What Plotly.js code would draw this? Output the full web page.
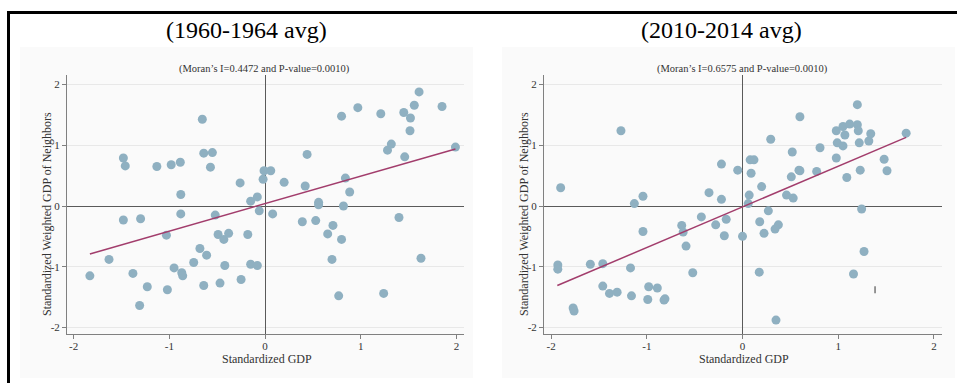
<!DOCTYPE html>
<html>
<head>
<meta charset="utf-8">
<script src="https://cdn.plot.ly/plotly-3.0.1.min.js"></script>
<style>html,body{margin:0;padding:0;background:#fff;}#chart{width:957px;height:383px;}</style>
</head>
<body>
<div id="chart"></div>
<script>
// ---- Data ----
const titles = ["(1960-1964 avg)", "(2010-2014 avg)"];
const subtitles = ["(Moran\u2019s I=0.4472 and P-value=0.0010)", "(Moran\u2019s I=0.6575 and P-value=0.0010)"];
const xTitle = "Standardized GDP";
const yTitle = "Standardized Weighted GDP of Neighbors";
const tickValues = [-2, -1, 0, 1, 2];
const tickLabels = ["-2", "-1", "0", "1", "2"];

const gdp1960 = [-1.48,-1.46,-1.13,-0.98,-0.885,-0.655,-0.64,-0.55,-0.57,-0.88,-0.26,-0.15,-0.08,-0.02,-0.01,0.06,-0.06,0.08,0.2,0.44,0.42,0.56,0.56,0.82,0.80,0.97,0.84,0.885,1.21,1.28,1.32,1.45,1.52,1.56,1.61,1.515,1.46,1.85,1.99,-1.48,-1.30,-0.88,-0.52,-1.03,-0.49,-0.43,-0.38,-0.18,-0.68,-0.61,-0.745,-1.63,-1.83,-1.38,-0.95,-0.87,-0.86,-0.42,-0.15,-0.08,-1.23,-1.02,-0.64,-0.47,-0.25,-1.31,0.39,0.53,0.71,0.655,0.80,1.40,0.70,1.63,0.77,1.24];
const nbr1960 = [0.79,0.66,0.65,0.68,0.72,1.43,0.87,0.88,0.64,0.19,0.38,0.08,0.15,0.44,0.58,0.58,-0.08,-0.13,0.39,0.85,0.33,0.06,0.02,0.0,1.48,1.62,0.46,0.23,1.52,0.92,1.02,1.54,1.45,1.66,1.88,1.24,0.81,1.64,0.97,-0.23,-0.21,-0.13,-0.15,-0.48,-0.47,-0.55,-0.45,-0.47,-0.70,-0.81,-0.93,-0.88,-1.15,-1.11,-1.02,-1.10,-1.15,-0.98,-0.96,-0.98,-1.33,-1.38,-1.31,-1.27,-1.21,-1.64,-0.26,-0.24,-0.32,-0.46,-0.55,-0.19,-0.88,-0.86,-1.48,-1.44];
const fitX1960 = [-1.83, 1.99];
const fitY1960 = [-0.79, 0.94];

const gdp2010 = [-1.90,-1.27,-1.13,-1.04,-0.35,-0.22,-0.22,-0.05,0.08,0.12,0.09,0.295,0.60,0.20,0.07,0.06,0.52,0.51,0.59,0.60,0.46,0.53,0.775,0.81,0.98,1.05,1.12,1.20,1.21,1.20,1.07,0.99,1.05,1.22,1.32,1.34,0.98,1.09,1.23,1.48,1.51,1.71,-1.04,-0.635,-0.62,-0.59,-0.43,-0.28,-0.17,-0.19,0.0,-1.93,-1.93,-1.59,-1.46,-1.17,-0.52,-1.46,-1.39,-1.31,-1.16,-0.98,-0.89,-0.99,-0.82,-0.81,-1.77,-1.76,0.27,0.18,0.375,0.34,0.225,1.245,1.27,0.175,1.16,0.35];
const nbr2010 = [0.30,1.24,0.04,0.16,0.22,0.11,0.69,0.59,0.76,0.76,0.54,1.10,1.47,0.32,0.18,0.04,0.89,0.48,0.59,0.58,0.18,0.13,0.57,0.96,1.24,1.31,1.35,1.34,1.24,1.67,1.17,1.04,0.99,1.04,1.07,1.19,0.79,0.47,0.59,0.77,0.58,1.20,-0.42,-0.32,-0.43,-0.66,-0.18,-0.31,-0.22,-0.49,-0.50,-0.97,-1.04,-0.96,-0.95,-1.02,-1.10,-1.32,-1.44,-1.42,-1.48,-1.33,-1.35,-1.54,-1.55,-1.53,-1.68,-1.73,-0.08,-0.26,-0.31,-0.38,-0.45,-0.05,-0.75,-1.09,-1.12,-1.88];
const fitX2010 = [-1.935, 1.71];
const fitY2010 = [-1.31, 1.13];
const stray2010X = [1.385];
const stray2010Y = [-1.38];

// ---- Layout helpers (pixels -> paper) ----
const W = 957, H = 383;
const pxX = p => p / W;
const pxY = p => 1 - p / H;
const serif = "Liberation Serif";
const dotColor = "#8fb0c1";
const fitColor = "#a23d6c";
const smallText = "#333333";

function axisX(dom, rng, anchor) {
  return {
    domain: dom, range: rng, anchor: anchor,
    showgrid: false, zeroline: true, zerolinecolor: "#5a5a5a", zerolinewidth: 1,
    showline: true, linecolor: "#808080", linewidth: 1,
    ticks: "outside", ticklen: 4, tickcolor: "#808080",
    ticklabelstandoff: -2,
    tickvals: tickValues, ticktext: tickLabels,
    tickfont: {family: serif, size: 11, color: smallText}
  };
}
function axisY(dom, rng, anchor) {
  return {
    domain: dom, range: rng, anchor: anchor,
    showgrid: true, gridcolor: "#e8e8e8", gridwidth: 1,
    zeroline: true, zerolinecolor: "#5a5a5a", zerolinewidth: 1,
    showline: true, linecolor: "#808080", linewidth: 1,
    ticks: "outside", ticklen: 4, tickcolor: "#808080",
    tickvals: tickValues, ticktext: tickLabels,
    tickfont: {family: serif, size: 11, color: smallText}
  };
}

const traces = [
  {x: gdp1960, y: nbr1960, xaxis: "x", yaxis: "y", type: "scatter", mode: "markers",
   marker: {color: dotColor, size: 9, line: {width: 0}}, hoverinfo: "skip"},
  {x: fitX1960, y: fitY1960, xaxis: "x", yaxis: "y", type: "scatter", mode: "lines",
   line: {color: fitColor, width: 1.5}, hoverinfo: "skip"},
  {x: gdp2010, y: nbr2010, xaxis: "x2", yaxis: "y2", type: "scatter", mode: "markers",
   marker: {color: dotColor, size: 9, line: {width: 0}}, hoverinfo: "skip"},
  {x: fitX2010, y: fitY2010, xaxis: "x2", yaxis: "y2", type: "scatter", mode: "lines",
   line: {color: fitColor, width: 1.5}, hoverinfo: "skip"},
  {x: stray2010X, y: stray2010Y, xaxis: "x2", yaxis: "y2", type: "scatter", mode: "markers",
   marker: {symbol: "line-ns", size: 5, line: {color: "#333", width: 1}}, hoverinfo: "skip"}
];

const yDom = [pxY(334), pxY(75)];
const yRng = [(206 - 334) / 60.7, (206 - 75) / 60.7];

const layout = {
  width: W, height: H,
  margin: {l: 0, r: 0, t: 0, b: 0},
  paper_bgcolor: "#ffffff", plot_bgcolor: "rgba(0,0,0,0)",
  showlegend: false,
  xaxis: axisX([pxX(67), pxX(464)], [(67 - 265) / 95.7, (464 - 265) / 95.7], "y"),
  yaxis: axisY(yDom, yRng, "x"),
  xaxis2: axisX([pxX(544), pxX(942)], [(544 - 742.5) / 95.7, (942 - 742.5) / 95.7], "y2"),
  yaxis2: axisY(yDom, yRng, "x2"),
  shapes: [
    {type: "rect", xref: "paper", yref: "paper", x0: pxX(20), x1: pxX(473), y0: pxY(378), y1: pxY(47),
     fillcolor: "#fafafa", line: {width: 0}, layer: "below"},
    {type: "rect", xref: "paper", yref: "paper", x0: pxX(502), x1: pxX(955), y0: pxY(378), y1: pxY(47),
     fillcolor: "#fafafa", line: {width: 0}, layer: "below"},
    {type: "line", xref: "paper", yref: "paper", x0: pxX(8), x1: pxX(957), y0: pxY(12.5), y1: pxY(12.5),
     line: {color: "#000", width: 3}},
    {type: "line", xref: "paper", yref: "paper", x0: pxX(8.5), x1: pxX(8.5), y0: pxY(11), y1: pxY(383),
     line: {color: "#000", width: 3}}
  ],
  annotations: [
    {text: titles[0], xref: "paper", yref: "paper", x: pxX(246), y: pxY(30), showarrow: false,
     xanchor: "center", yanchor: "middle", font: {family: serif, size: 24, color: "#000"}},
    {text: titles[1], xref: "paper", yref: "paper", x: pxX(721), y: pxY(30), showarrow: false,
     xanchor: "center", yanchor: "middle", font: {family: serif, size: 24, color: "#000"}},
    {text: subtitles[0], xref: "paper", yref: "paper", x: pxX(264), y: pxY(69), showarrow: false,
     xanchor: "center", yanchor: "middle", font: {family: serif, size: 10.5, color: smallText}},
    {text: subtitles[1], xref: "paper", yref: "paper", x: pxX(742), y: pxY(69), showarrow: false,
     xanchor: "center", yanchor: "middle", font: {family: serif, size: 10.5, color: smallText}},
    {text: xTitle, xref: "paper", yref: "paper", x: pxX(267), y: pxY(359), showarrow: false,
     xanchor: "center", yanchor: "middle", font: {family: serif, size: 12, color: smallText}},
    {text: xTitle, xref: "paper", yref: "paper", x: pxX(744), y: pxY(359), showarrow: false,
     xanchor: "center", yanchor: "middle", font: {family: serif, size: 12, color: smallText}},
    {text: yTitle, xref: "paper", yref: "paper", x: pxX(47), y: pxY(214), showarrow: false, textangle: -90,
     xanchor: "center", yanchor: "middle", font: {family: serif, size: 12, color: smallText}},
    {text: yTitle, xref: "paper", yref: "paper", x: pxX(524), y: pxY(214), showarrow: false, textangle: -90,
     xanchor: "center", yanchor: "middle", font: {family: serif, size: 12, color: smallText}}
  ]
};

Plotly.newPlot("chart", traces, layout, {staticPlot: true, displayModeBar: false});
</script>
</body>
</html>
